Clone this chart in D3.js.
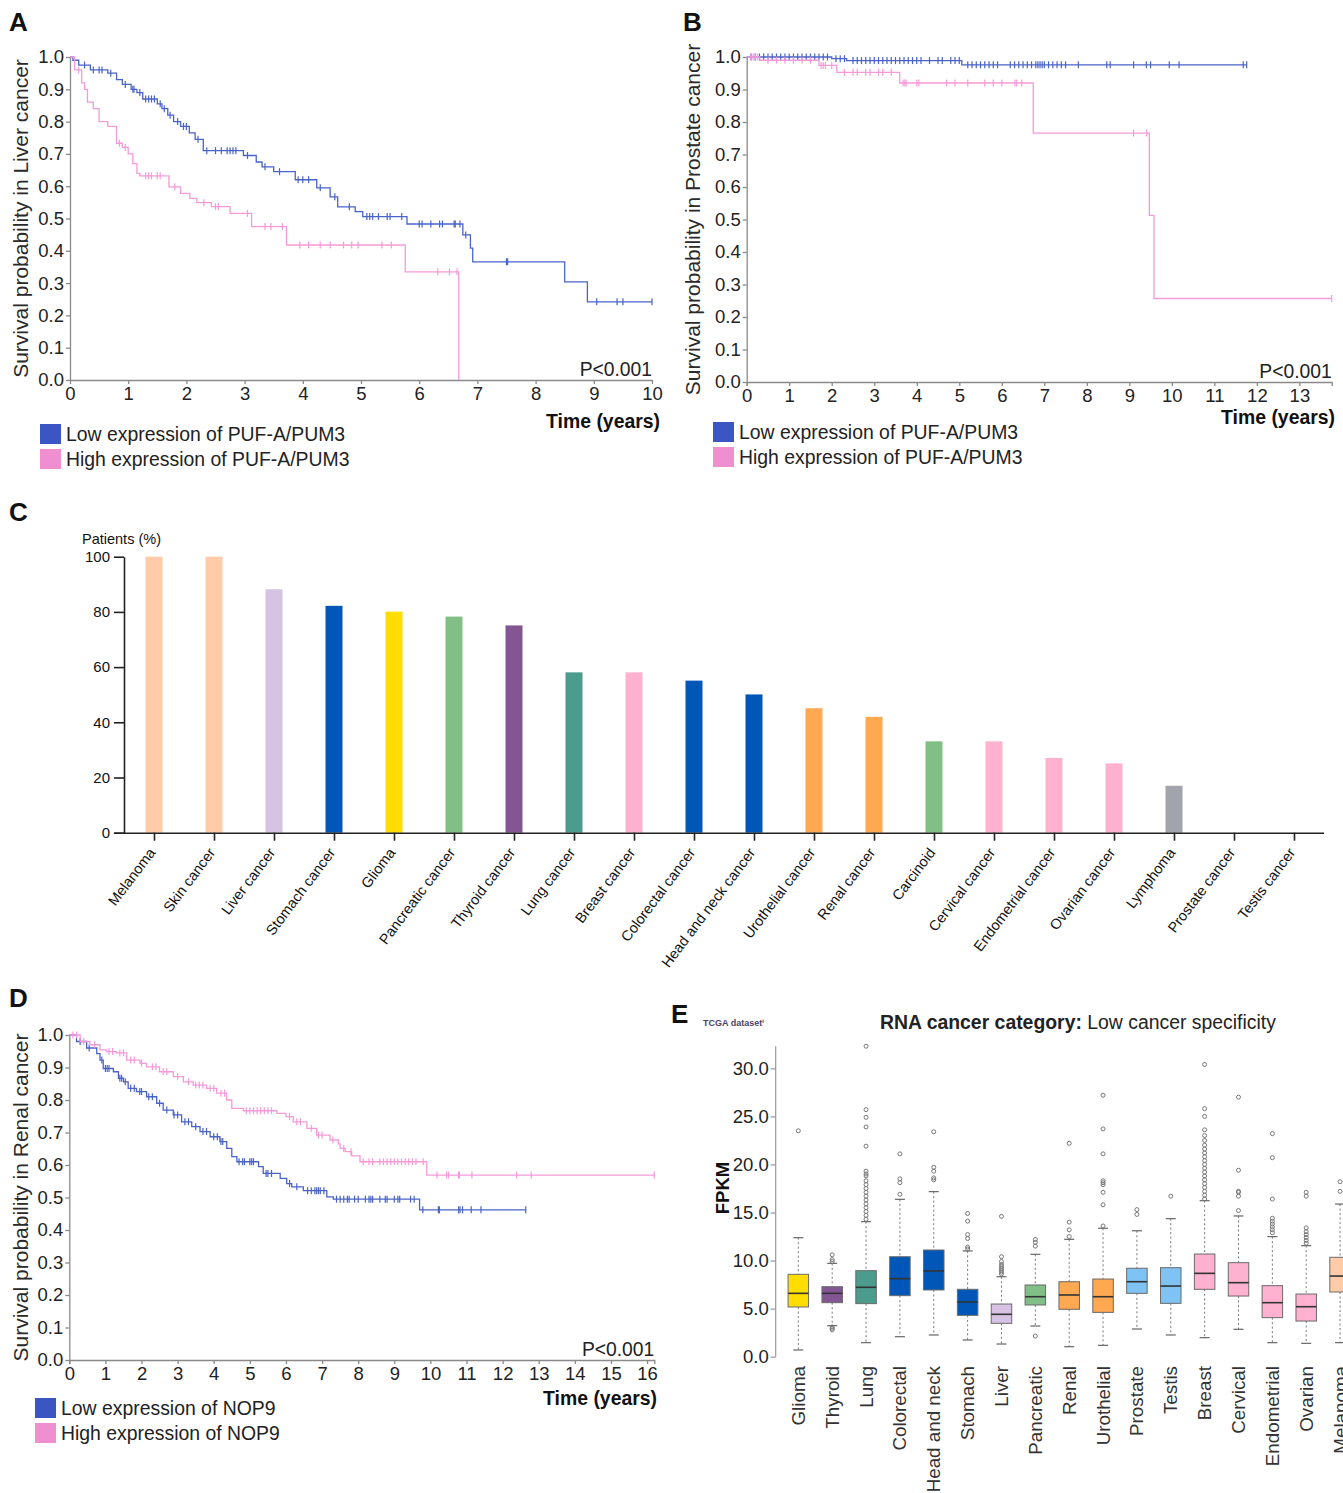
<!DOCTYPE html>
<html><head><meta charset="utf-8">
<script src="https://cdn.jsdelivr.net/npm/d3@7"></script>
<style>
body{margin:0;background:#fff;}
text{font-family:"Liberation Sans",Arial,sans-serif;}
</style>
</head><body>
<script>
// ---------------- DATA ----------------
// Panel A: Liver cancer, PUF-A/PUM3
const aLowT = [0,0.05,0.15,0.35,0.65,0.8,0.9,1.05,1.15,1.25,1.5,1.58,1.68,1.78,1.9,2.05,2.15,2.29,2.98,3.2,3.3,3.5,3.87,4.24,4.47,4.6,4.9,5.03,5.79,6.75,6.88,6.92,8.5,8.89];
const aLowS = [1.0,0.99,0.975,0.96,0.95,0.93,0.915,0.9,0.89,0.87,0.855,0.84,0.82,0.80,0.785,0.765,0.745,0.71,0.695,0.675,0.66,0.645,0.62,0.595,0.567,0.536,0.521,0.506,0.483,0.449,0.408,0.366,0.304,0.242];
const aLowEnd = 10.0;
const aLowCens = [0.25,0.4,0.5,0.55,0.7,0.95,1.08,1.1,1.2,1.3,1.35,1.4,1.45,1.55,1.62,1.72,1.85,1.95,2.0,2.2,2.35,2.5,2.6,2.7,2.75,2.8,2.85,3.05,3.35,3.6,3.92,4.0,4.1,4.3,4.55,4.8,5.1,5.15,5.2,5.3,5.45,5.5,5.7,6.0,6.05,6.2,6.35,6.4,6.6,6.62,6.7,6.8,7.5,7.52,9.05,9.4,9.5,10.0];
const aHighT = [0,0.08,0.2,0.25,0.3,0.4,0.5,0.65,0.8,0.9,1.0,1.08,1.15,1.2,1.7,1.9,2.06,2.18,2.43,2.75,3.12,3.72,5.76,6.68];
const aHighS = [1.0,0.96,0.92,0.90,0.86,0.84,0.80,0.785,0.733,0.72,0.70,0.67,0.64,0.632,0.598,0.578,0.5625,0.549,0.537,0.516,0.475,0.418,0.335,0.0];
const aHighEnd = 6.68;
const aHighCens = [0.15,0.85,0.95,1.3,1.35,1.4,1.5,1.55,1.8,2.3,2.5,2.55,3.05,3.35,3.45,3.65,3.95,4.1,4.3,4.47,4.7,4.84,4.95,5.36,5.52,6.32,6.52,6.65];
const aXTicks = [0,1,2,3,4,5,6,7,8,9,10];

// Panel B: Prostate cancer, PUF-A/PUM3
const bLowT = [0,2.0,2.35,5.06];
const bLowS = [1.0,0.995,0.989,0.976];
const bLowEnd = 11.76;
const bLowCens = [0.1,0.2,0.3,0.4,0.5,0.6,0.7,0.8,0.9,1.0,1.1,1.2,1.3,1.4,1.5,1.6,1.7,1.8,1.9,2.1,2.2,2.3,2.5,2.6,2.7,2.8,2.9,3.0,3.1,3.2,3.3,3.4,3.5,3.6,3.7,3.8,3.9,4.0,4.1,4.3,4.5,4.6,4.8,4.9,5.0,5.2,5.3,5.4,5.5,5.6,5.7,5.8,5.9,6.2,6.3,6.4,6.5,6.6,6.7,6.8,6.85,6.9,6.95,7.0,7.1,7.2,7.3,7.4,7.5,7.8,8.47,8.55,9.1,9.4,9.5,9.94,10.17,11.68,11.76];
const bHighT = [0,0.31,1.7,2.12,3.6,6.74,9.47,9.58];
const bHighS = [1.0,0.99,0.974,0.953,0.92,0.766,0.513,0.257];
const bHighEnd = 13.76;
const bHighCens = [0.1,0.15,0.2,0.25,0.5,0.7,0.9,1.1,1.3,1.5,1.75,1.8,1.85,2.0,2.3,2.5,2.6,2.8,2.9,3.1,3.2,3.4,3.68,3.72,3.75,4.0,4.05,4.7,4.9,5.2,5.6,5.8,6.0,6.31,6.35,6.47,9.1,9.41,13.76];
const bXTicks = [0,1,2,3,4,5,6,7,8,9,10,11,12,13];

// Panel C: Patients (%)
const cCats = ["Melanoma","Skin cancer","Liver cancer","Stomach cancer","Glioma","Pancreatic cancer","Thyroid cancer","Lung cancer","Breast cancer","Colorectal cancer","Head and neck cancer","Urothelial cancer","Renal cancer","Carcinoid","Cervical cancer","Endometrial cancer","Ovarian cancer","Lymphoma","Prostate cancer","Testis cancer"];
const cVals = [100,100,88.2,82.2,80.1,78.3,75.1,58.1,58.1,55.1,50.1,45.1,42.0,33.1,33.1,27.1,25.1,17.0,0,0];
const cCols = ["#ffcba8","#ffcba8","#d6c3e3","#0057b8","#ffdd00","#82bf87","#835693","#4b9c8c","#ffb1cf","#0057b8","#0057b8","#ffa852","#ffa852","#82bf87","#ffb1cf","#ffb1cf","#ffb1cf","#a1a4aa","#7fc2f4","#7fc2f4"];
const cYTicks = [0,20,40,60,80,100];

// Panel D: Renal cancer, NOP9
const dLowT = [0,0.2,0.48,0.76,0.85,0.94,1.22,1.36,1.5,1.63,1.86,2.14,2.42,2.6,2.88,3.11,3.39,3.62,3.9,4.17,4.36,4.5,4.64,5.24,5.37,5.84,6.02,6.16,6.48,7.13,7.31,9.7];
const dLowS = [1.0,0.98,0.96,0.943,0.923,0.897,0.887,0.867,0.856,0.836,0.826,0.81,0.79,0.769,0.754,0.733,0.718,0.703,0.687,0.672,0.651,0.626,0.61,0.595,0.574,0.559,0.543,0.533,0.521,0.502,0.495,0.462];
const dLowEnd = 12.64;
const dLowCens = [0.3,0.55,0.9,1.0,1.05,1.1,1.4,1.45,1.55,1.7,1.8,1.95,2.0,2.2,2.3,2.5,2.7,2.9,3.0,3.2,3.3,3.5,3.7,3.8,4.0,4.1,4.2,4.25,4.7,4.8,4.85,5.0,5.05,5.1,5.45,5.5,5.6,6.1,6.3,6.6,6.7,6.8,6.85,6.9,6.95,7.05,7.4,7.5,7.6,7.7,7.75,7.9,8.0,8.2,8.3,8.35,8.4,8.6,8.75,8.8,9.0,9.1,9.15,9.45,9.55,9.79,10.22,10.25,10.78,10.82,10.89,11.13,11.4,12.64];
const dHighT = [0,0.3,0.57,0.85,1.03,1.3,1.59,1.96,2.14,2.5,2.88,3.16,3.43,3.8,4.08,4.36,4.5,4.82,5.75,6.0,6.2,6.58,6.85,7.22,7.45,7.5,7.64,7.82,8.05,9.9];
const dHighS = [1.0,0.98,0.97,0.954,0.949,0.945,0.923,0.913,0.902,0.887,0.872,0.856,0.846,0.836,0.821,0.8,0.774,0.767,0.759,0.749,0.733,0.713,0.692,0.677,0.665,0.651,0.641,0.628,0.61,0.569];
const dHighEnd = 16.2;
const dHighCens = [0.1,0.2,0.4,0.7,1.1,1.2,1.4,1.5,1.7,1.8,2.0,2.3,2.4,2.6,2.7,3.0,3.3,3.5,3.6,3.7,3.9,4.0,4.2,4.3,4.9,5.0,5.1,5.2,5.3,5.4,5.5,5.6,6.1,6.3,6.4,6.7,6.9,7.0,7.3,7.6,7.8,8.14,8.3,8.4,8.6,8.7,8.8,8.9,9.0,9.1,9.2,9.3,9.4,9.5,9.6,9.8,10.18,10.45,10.5,10.78,10.8,11.15,12.39,12.79,16.2];
const dXTicks = [0,1,2,3,4,5,6,7,8,9,10,11,12,13,14,15,16];

// Panel E: FPKM box plots (TCGA)
const eCats = ["Glioma","Thyroid","Lung","Colorectal","Head and neck","Stomach","Liver","Pancreatic","Renal","Urothelial","Prostate","Testis","Breast","Cervical","Endometrial","Ovarian","Melanoma"];
const eLo  = [0.70,3.23,1.46,2.08,2.26,1.74,1.32,3.19,1.04,1.18,2.88,2.26,1.98,2.85,1.46,1.39,1.46];
const eQ1  = [5.17,5.62,5.52,6.35,6.94,4.30,3.47,5.38,4.93,4.61,6.59,5.55,7.01,6.31,4.06,3.71,6.73];
const eMed = [6.59,6.59,7.22,8.12,8.92,5.69,4.41,6.24,6.42,6.24,7.80,7.35,8.67,7.70,5.62,5.20,8.39];
const eQ3  = [8.57,7.28,8.95,10.40,11.10,7.01,5.48,7.46,7.80,8.08,9.20,9.26,10.68,9.78,7.39,6.52,10.34];
const eHi  = [12.38,9.71,14.05,16.37,17.17,11.0,8.32,10.65,12.21,13.36,13.10,14.36,16.23,14.64,12.49,11.55,15.88];
const eOut = [
  [23.5],
  [10.6,10.1,9.9,3.1,2.95,2.8],
  [32.3,25.7,24.9,23.9,21.9,19.3,19.0,18.8,18.3,17.9,17.5,17.1,16.7,16.3,15.9,15.5,15.1,14.7,14.3],
  [21.1,18.5,18.1,16.9],
  [23.4,19.7,19.3,18.6,18.4],
  [14.9,14.1,12.7,12.3,11.4,11.2],
  [14.6,10.4,9.9,9.6,9.4,9.2,9.0,8.8,8.6],
  [12.2,11.9,11.5,2.15],
  [22.2,14.0,13.2,12.5],
  [27.2,23.7,21.1,18.3,18.1,17.9,17.1,15.8,13.6],
  [15.3,14.8],
  [16.7],
  [30.4,25.8,25.0,23.6,23.0,22.5,22.0,21.6,21.2,20.8,20.4,20.0,19.6,19.2,18.8,18.4,18.0,17.6,17.2,16.8,16.4],
  [27.0,19.4,17.2,17.1,16.7,15.2],
  [23.2,20.7,16.4,14.4,14.1,13.8,13.5,13.2,12.9],
  [17.1,16.7,13.4,13.0,12.7,12.4,12.1,11.8],
  [18.2,17.2]
];
const eCols = ["#ffdd00","#835693","#4b9c8c","#0057b8","#0057b8","#0057b8","#d6c3e3","#82bf87","#ffa852","#ffa852","#7fc2f4","#7fc2f4","#ffb1cf","#ffb1cf","#ffb1cf","#ffb1cf","#ffcba8"];
const eYTicks = [0,5,10,15,20,25,30];

// ---------------- DRAWING ----------------
const W = 1343, H = 1493;
const svg = d3.select("body").append("svg").attr("width", W).attr("height", H);

const BLUE_LINE = "#4a63c9", PINK_LINE = "#f59ad8";
const BLUE_LEG = "#3b56c3", PINK_LEG = "#ef8fd0";

function panelLabel(t, x, y) {
  svg.append("text").attr("x", x).attr("y", y).text(t)
    .attr("font-size", 26).attr("font-weight", "bold").attr("fill", "#111");
}

function stepSurv(T, S, t) {
  const i = d3.bisectRight(T, t) - 1;
  return S[Math.max(0, i)];
}

function drawKM(o) {
  const g = svg.append("g");
  const x = d3.scaleLinear().domain([0, o.xMax]).range([o.x0, o.x1]);
  const y = d3.scaleLinear().domain([0, 1]).range([o.y0, o.y1]);

  const ya = d3.axisLeft(y).tickValues(d3.range(0, 11).map(d => d / 10))
    .tickFormat(d3.format(".1f")).tickSize(4).tickSizeOuter(0).tickPadding(2);
  const yg = g.append("g").attr("transform", `translate(${o.x0},0)`).call(ya);
  const xa = d3.axisBottom(x).tickValues(o.xTicks).tickFormat(d3.format("d"))
    .tickSize(4).tickSizeOuter(o.endTick ? 4 : 0).tickPadding(3);
  const xg = g.append("g").attr("transform", `translate(0,${o.y0})`).call(xa);
  [yg, xg].forEach(a => {
    a.selectAll("path,line").attr("stroke", "#8a8a8a").attr("stroke-width", 1.3);
    a.selectAll("text").attr("font-size", 18.5).attr("fill", "#222")
      .attr("font-family", "'Liberation Sans',Arial,sans-serif");
  });

  o.series.forEach(s => {
    const pts = s.T.map((t, i) => [t, s.S[i]]);
    pts.push([s.end, s.S[s.S.length - 1]]);
    g.append("path").datum(pts)
      .attr("d", d3.line().x(d => x(d[0])).y(d => y(d[1])).curve(d3.curveStepAfter))
      .attr("fill", "none").attr("stroke", s.color).attr("stroke-width", 1.3);
    g.append("g").selectAll("line").data(s.C).join("line")
      .attr("x1", d => x(d)).attr("x2", d => x(d))
      .attr("y1", d => y(stepSurv(s.T, s.S, d)) - 3.5)
      .attr("y2", d => y(stepSurv(s.T, s.S, d)) + 3.5)
      .attr("stroke", s.color).attr("stroke-width", 1.2);
  });

  g.append("text").attr("transform", `translate(${o.ytx},${(o.y0 + o.y1) / 2}) rotate(-90)`)
    .attr("text-anchor", "middle").attr("font-size", 21).attr("fill", "#2a2a2a")
    .text(o.ytitle);
  g.append("text").attr("x", o.x1).attr("y", o.y0 - 4).attr("text-anchor", "end")
    .attr("font-size", 19.3).attr("fill", "#222").text("P<0.001");
  g.append("text").attr("x", o.timeX).attr("y", o.timeY).attr("text-anchor", "end")
    .attr("font-size", 19.4).attr("font-weight", "bold").attr("fill", "#111").text("Time (years)");

  o.legend.forEach((l, i) => {
    g.append("rect").attr("x", o.lx).attr("y", o.ly + i * 25).attr("width", 21).attr("height", 20)
      .attr("fill", l.color);
    g.append("text").attr("x", o.lx + 26).attr("y", o.ly + i * 25 + 17)
      .attr("font-size", 19.4).attr("fill", "#222").text(l.label);
  });
}

// Panel A
panelLabel("A", 9, 31);
drawKM({
  x0: 70, x1: 652, y0: 380, y1: 57, xMax: 10, xTicks: aXTicks, endTick: false,
  ytx: 28, ytitle: "Survival probability in Liver cancer",
  timeX: 660, timeY: 428,
  lx: 40, ly: 424,
  series: [
    {T: aLowT, S: aLowS, end: aLowEnd, C: aLowCens, color: BLUE_LINE},
    {T: aHighT, S: aHighS, end: aHighEnd, C: aHighCens, color: PINK_LINE}
  ],
  legend: [{color: BLUE_LEG, label: "Low expression of PUF-A/PUM3"},
           {color: PINK_LEG, label: "High expression of PUF-A/PUM3"}]
});

// Panel B
panelLabel("B", 683, 31);
drawKM({
  x0: 746.7, x1: 1331.7, y0: 382, y1: 57, xMax: 13.76, xTicks: bXTicks, endTick: true,
  ytx: 700, ytitle: "Survival probability in Prostate cancer",
  timeX: 1335, timeY: 424,
  lx: 713, ly: 422,
  series: [
    {T: bLowT, S: bLowS, end: bLowEnd, C: bLowCens, color: BLUE_LINE},
    {T: bHighT, S: bHighS, end: bHighEnd, C: bHighCens, color: PINK_LINE}
  ],
  legend: [{color: BLUE_LEG, label: "Low expression of PUF-A/PUM3"},
           {color: PINK_LEG, label: "High expression of PUF-A/PUM3"}]
});

// Panel D
panelLabel("D", 9, 1007);
drawKM({
  x0: 69.3, x1: 654.3, y0: 1360, y1: 1035, xMax: 16.2, xTicks: dXTicks, endTick: true,
  ytx: 28, ytitle: "Survival probability in Renal cancer",
  timeX: 657, timeY: 1405,
  lx: 35, ly: 1398,
  series: [
    {T: dLowT, S: dLowS, end: dLowEnd, C: dLowCens, color: BLUE_LINE},
    {T: dHighT, S: dHighS, end: dHighEnd, C: dHighCens, color: PINK_LINE}
  ],
  legend: [{color: BLUE_LEG, label: "Low expression of NOP9"},
           {color: PINK_LEG, label: "High expression of NOP9"}]
});

// Panel C
panelLabel("C", 9, 521);
(function () {
  const g = svg.append("g");
  const x = d3.scalePoint().domain(cCats).range([124, 1324]).padding(0.5);
  const y = d3.scaleLinear().domain([0, 100]).range([832.7, 556.7]);
  g.selectAll("rect").data(cCats).join("rect")
    .attr("x", d => x(d) - 8.5).attr("width", 17)
    .attr("y", (d, i) => y(cVals[i])).attr("height", (d, i) => y(0) - y(cVals[i]))
    .attr("fill", (d, i) => cCols[i]);
  const ya = d3.axisLeft(y).tickValues(cYTicks).tickSize(10).tickSizeOuter(0).tickPadding(4);
  const yg = g.append("g").attr("transform", "translate(124,0)").call(ya);
  yg.selectAll("path,line").attr("stroke", "#222").attr("stroke-width", 1.6);
  yg.selectAll("text").attr("font-size", 15).attr("fill", "#111")
    .attr("font-family", "'Liberation Sans',Arial,sans-serif");
  const xa = d3.axisBottom(x).tickSize(8).tickSizeOuter(0).tickFormat("");
  const xg = g.append("g").attr("transform", `translate(0,${y(0)})`).call(xa);
  xg.select("path").attr("d", "M114,0.5H1324");
  xg.selectAll("path,line").attr("stroke", "#222").attr("stroke-width", 1.6);
  g.selectAll("text.cl").data(cCats).join("text").attr("class", "cl")
    .attr("transform", d => `translate(${x(d) + 2},${y(0) + 20}) rotate(-53)`)
    .attr("text-anchor", "end").attr("font-size", 14.5).attr("fill", "#111").text(d => d);
  g.append("text").attr("x", 82).attr("y", 544).attr("font-size", 14.5).attr("fill", "#111")
    .text("Patients (%)");
})();

// Panel E
panelLabel("E", 671, 1023);
(function () {
  const g = svg.append("g");
  const x = d3.scalePoint().domain(eCats).range([781.4, 1357.0]).padding(0.5);
  const y = d3.scaleLinear().domain([0, 30]).range([1356.7, 1068.3]);
  const bw = 20.5, cap = 5;

  g.append("text").attr("x", 703).attr("y", 1026).attr("font-size", 9).attr("font-weight", "bold")
    .attr("fill", "#4e3f63").text("TCGA dataset").append("tspan").attr("dy", -3)
    .attr("font-size", 6).text("i");
  const t = g.append("text").attr("x", 880).attr("y", 1029).attr("font-size", 19.4).attr("fill", "#222");
  t.append("tspan").attr("font-weight", "bold").text("RNA cancer category:");
  t.append("tspan").text(" Low cancer specificity");

  const ya = d3.axisLeft(y).tickValues(eYTicks).tickFormat(d3.format(".1f")).tickSize(5).tickSizeOuter(0).tickPadding(2);
  const yg = g.append("g").attr("transform", "translate(775.7,0)").call(ya);
  yg.select("path").attr("d", `M0,${y(0)}V${y(32.3)}`);
  yg.selectAll("path,line").attr("stroke", "#999").attr("stroke-width", 1.2);
  yg.selectAll("text").attr("font-size", 18.5).attr("fill", "#222")
    .attr("font-family", "'Liberation Sans',Arial,sans-serif");
  g.append("text").attr("transform", `translate(729,${1188}) rotate(-90)`)
    .attr("text-anchor", "middle").attr("font-size", 18.5).attr("font-weight", "bold").attr("fill", "#111")
    .text("FPKM");

  eCats.forEach((c, i) => {
    const cx = x(c);
    const bg = g.append("g");
    bg.append("line").attr("x1", cx).attr("x2", cx).attr("y1", y(eHi[i])).attr("y2", y(eQ3[i]))
      .attr("stroke", "#777").attr("stroke-width", 1).attr("stroke-dasharray", "2,2.5");
    bg.append("line").attr("x1", cx).attr("x2", cx).attr("y1", y(eQ1[i])).attr("y2", y(eLo[i]))
      .attr("stroke", "#777").attr("stroke-width", 1).attr("stroke-dasharray", "2,2.5");
    [eHi[i], eLo[i]].forEach(v => bg.append("line").attr("x1", cx - cap).attr("x2", cx + cap)
      .attr("y1", y(v)).attr("y2", y(v)).attr("stroke", "#666").attr("stroke-width", 1.2));
    bg.append("rect").attr("x", cx - bw / 2).attr("width", bw).attr("y", y(eQ3[i]))
      .attr("height", y(eQ1[i]) - y(eQ3[i])).attr("fill", eCols[i])
      .attr("stroke", "#6a6a6a").attr("stroke-width", 1);
    bg.append("line").attr("x1", cx - bw / 2).attr("x2", cx + bw / 2)
      .attr("y1", y(eMed[i])).attr("y2", y(eMed[i])).attr("stroke", "#333").attr("stroke-width", 1.6);
    bg.selectAll("circle").data(eOut[i]).join("circle").attr("cx", cx).attr("cy", d => y(d)).attr("r", 2)
      .attr("fill", "none").attr("stroke", "#777").attr("stroke-width", 1);
    g.append("text").attr("transform", `translate(${cx + 6.5},1366) rotate(-90)`)
      .attr("text-anchor", "end").attr("font-size", 18.8).attr("fill", "#333").text(c);
  });
})();
</script>
</body></html>
